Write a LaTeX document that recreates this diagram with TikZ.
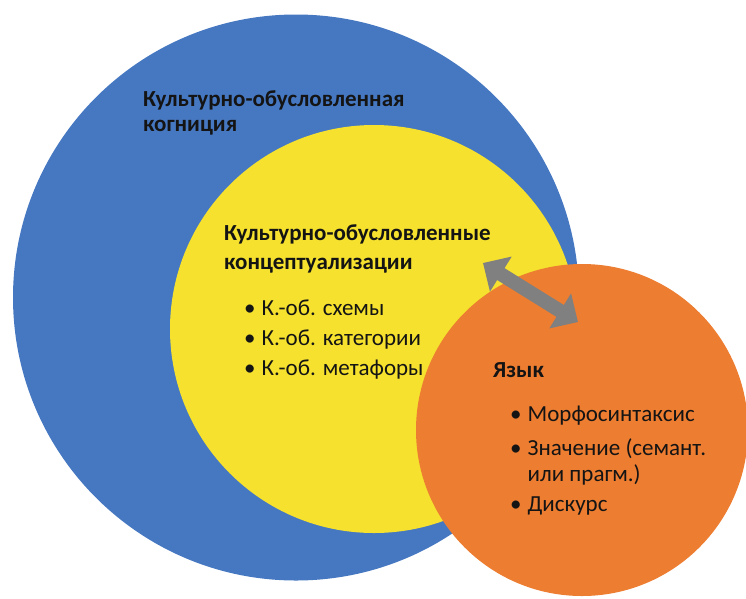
\documentclass[tikz,border=0pt]{standalone}
\usepackage{fontspec}
\setmainfont{Carlito}
\usetikzlibrary{positioning,arrows.meta}
\definecolor{ringblue}{HTML}{4678C2}
\definecolor{ringyellow}{HTML}{F5E12E}
\definecolor{ringorange}{HTML}{ED7D31}
\definecolor{linkgray}{HTML}{808080}
\definecolor{inkblack}{HTML}{141414}

\begin{document}
\begin{tikzpicture}[
    x=1pt, y=-1pt,
    ring/.style={circle, inner sep=0pt, draw=none},
    head/.style={font=\bfseries\fontsize{23}{25}\selectfont, text=inkblack, align=left, anchor=north west, inner sep=0pt},
    items/.style={font=\fontsize{23}{30}\selectfont, text=inkblack, inner sep=0pt},
    link/.style={line width=14pt, linkgray, {Triangle[length=21pt,width=40pt]}-{Triangle[length=21pt,width=40pt]}}
]
    \useasboundingbox (0,0) rectangle (746,598);

    \node[ring, fill=ringblue, minimum size=566pt] (cognition) at (296,297.5) {};
    \node[ring, fill=ringyellow, minimum size=408pt] (concepts) at (374,329) {};
    \node[ring, fill=ringorange, minimum size=332pt] (language) at (582,430) {};

    \coordinate (linkA) at (483,263);
    \coordinate (linkB) at (578,322);
    \draw[link] (linkA) -- (linkB);

    \node[head] (headcog) at (143,90) {Культурно-обусловленная\\когниция};
    \node[head, font=\bfseries\fontsize{23}{29}\selectfont] (headcon) at (224,224) {Культурно-обусловленные\\концептуализации};
    \node[head] (headlang) at (493,362) {Язык};

    \node[items, below right=21pt and 20pt of headcon.south west] (listcon) {%
        \begin{tabular}{@{}l@{\hspace{6pt}}l@{}}
        • & К.-об. схемы\\
        • & К.-об. категории\\
        • & К.-об. метафоры
        \end{tabular}};
    \node[items, below right=23pt and 17pt of headlang.south west] (listlang) {%
        \begin{tabular}{@{}l@{\hspace{6pt}}l@{}}
        • & Морфосинтаксис\\[4pt]
        • & Значение (семант.\\[-4pt]
          & или прагм.)\\
        • & Дискурс
        \end{tabular}};
\end{tikzpicture}
\end{document}
